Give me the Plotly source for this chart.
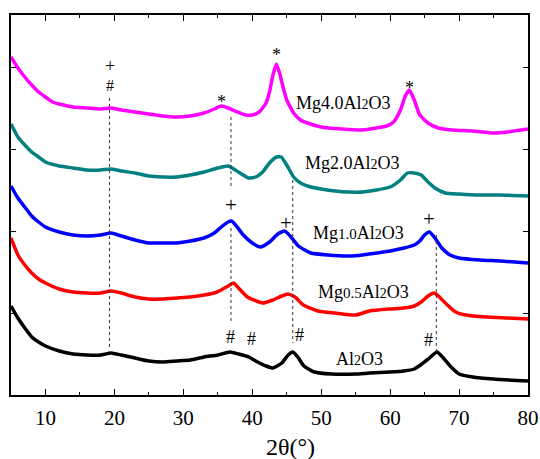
import plotly.graph_objects as go

# ---- data (2theta in degrees, intensity in arbitrary units, stacked) ----
x_mg40 = [5, 6, 7, 8, 9, 10, 11, 12, 14, 16, 18, 19.5, 21, 23, 25, 27, 29, 31, 33, 34.5, 35.5, 36.5, 37.5, 39, 40, 41, 41.5, 42, 42.5, 43, 43.5, 44, 44.5, 45, 46, 47, 48, 50, 53, 56, 58, 59.5, 60.5, 61.5, 62.2, 62.8, 63.5, 64.3, 65.5, 67, 69, 72, 75, 77, 79, 80]
y_mg40 = [338, 327, 318, 310, 303, 298, 293, 291, 288, 287, 286, 287, 285, 283, 281, 279, 278, 279, 282, 286, 289, 287, 284, 280, 280, 283, 287, 292, 303, 320, 331, 321, 307, 295, 282, 275, 272, 268, 266, 265, 267, 269, 273, 285, 299, 305, 295, 280, 272, 267, 265, 264, 262, 263, 265, 266]

x_mg20 = [5, 6, 7, 8, 9, 10, 12, 14, 16, 18, 19.5, 21, 23, 25, 27, 29, 31, 33, 35, 36.5, 38, 39.5, 40.5, 41.5, 42.5, 43.5, 44.2, 45, 46, 47, 48.5, 50, 52, 54, 56, 58, 60, 61.5, 62.5, 63.5, 64.5, 65.5, 66.5, 68, 70, 73, 76, 80]
y_mg20 = [271, 258, 250, 243, 238, 233, 229, 227, 225, 225, 226, 224, 222, 219, 218, 218, 220, 223, 227, 229, 223, 217, 218, 223, 232, 238, 238, 230, 218, 212, 208, 206, 204, 203, 203, 205, 208, 215, 222, 222, 220, 213, 207, 202, 201, 200, 200, 199]

x_mg10 = [5, 6, 7, 8, 9, 10, 12, 14, 16, 18, 19.5, 21, 23, 25, 27, 29, 31, 33, 34.5, 35.5, 36.5, 37, 37.7, 38.7, 40, 41.2, 42.5, 43.7, 44.7, 45.5, 46.7, 48.5, 51, 54, 56, 58, 60, 62, 63.5, 64.3, 65, 65.7, 66.5, 67.5, 68.7, 70, 73, 76, 80]
y_mg10 = [209, 197, 188, 179, 173, 168, 163, 160, 159, 160, 162, 159, 155, 152, 152, 152, 154, 157, 162, 168, 173, 174, 169, 160, 152, 148, 153, 161, 164, 159, 149, 142, 140, 139, 140, 142, 144, 147, 150, 154, 160, 163, 157, 147, 140, 137, 135, 134, 132]

x_mg05 = [5, 6, 7, 8, 9, 10, 12, 14, 16, 18, 19.5, 21, 23, 25, 27, 29, 31, 33, 34.5, 35.5, 36.5, 37.3, 38, 39.3, 41.5, 43, 44.3, 45.2, 46.2, 47.4, 49.5, 52, 55, 57, 60, 62, 63.5, 64.5, 65.5, 66.4, 67.3, 68.3, 69.5, 71, 74, 77, 80]
y_mg05 = [157, 140, 130, 122, 116, 112, 106, 103, 102, 102, 104, 102, 98, 96, 96, 97, 98, 100, 102, 105, 109, 112, 107, 98, 92, 95, 99, 101, 98, 90, 84, 82, 80, 84, 86, 87, 89, 93, 99, 102, 97, 90, 83, 80, 78, 77, 76]

x_al2o3 = [5, 6, 7, 8, 9, 10, 12, 14, 16, 18, 19.5, 21, 23, 25, 27, 29, 31, 33, 35, 36.8, 38, 39.5, 40.5, 42, 43, 44.3, 45.2, 45.9, 46.6, 47.5, 49, 51.5, 55, 57, 60, 62, 63.5, 64.6, 65.7, 66.8, 67.6, 68.7, 70, 72, 75, 80]
y_al2o3 = [89, 77, 67, 58, 53, 49, 44, 41, 40, 40, 42, 40, 37, 34, 33, 34, 35, 38, 40, 43, 41, 38, 34, 29, 27, 32, 40, 43, 38, 29, 23, 21, 21, 22, 23, 24, 26, 31, 37, 43, 38, 29, 21, 18, 16, 14]

series_names = ["Mg4.0Al2O3", "Mg2.0Al2O3", "Mg1.0Al2O3", "Mg0.5Al2O3", "Al2O3"]
series_colors = ["#FF00FF", "#008080", "#0000FF", "#FF0000", "#000000"]
series_x = [x_mg40, x_mg20, x_mg10, x_mg05, x_al2o3]
series_y = [y_mg40, y_mg20, y_mg10, y_mg05, y_al2o3]

# curve labels (position in data units)
label_text = ["Mg4.0Al<span style='font-size:14px'>2</span>O3",
              "Mg2.0Al<span style='font-size:14px'>2</span>O3",
              "Mg<span style='font-size:15px'>1.0</span>Al<span style='font-size:14px'>2</span>O3",
              "Mg<span style='font-size:15px'>0.5</span>Al<span style='font-size:14px'>2</span>O3",
              "Al<span style='font-size:14px'>2</span>O3"]
label_x = [53.2, 54.6, 55.4, 56.2, 55.5]
label_y = [292, 232, 162, 103, 36]

# phase markers
mark_text = ["+", "#", "*", "*", "*", "+", "+", "+", "#", "#", "#", "#"]
mark_x = [19.42, 19.42, 35.6, 43.45, 62.8, 36.96, 44.93, 65.65, 36.8, 39.86, 46.8, 65.5]
mark_y = [329, 310, 299, 346, 313, 190, 172, 176, 58, 56, 60, 55]
mark_size = [18, 16, 18, 18, 18, 21, 21, 21, 18, 18, 18, 18]

# dotted guide lines (x, y_start, y_end)
guide_x = [19.28, 36.91, 36.91, 45.87, 66.7]
guide_y0 = [297, 278, 167, 215, 160]
guide_y1 = [45, 208, 72, 52, 43]

x_ticks = [10, 20, 30, 40, 50, 60, 70, 80]
x_title = "2θ(°)"

SERIF = "Liberation Serif, Times New Roman, serif"

fig = go.Figure()
for xs, ys, nm, col in zip(series_x, series_y, series_names, series_colors):
    fig.add_trace(go.Scatter(x=xs, y=ys, mode="lines", name=nm,
                             line=dict(color=col, width=3.5, shape="spline", smoothing=0.5),
                             showlegend=False, hoverinfo="skip"))

for gx, g0, g1 in zip(guide_x, guide_y0, guide_y1):
    fig.add_shape(type="line", x0=gx, x1=gx, y0=g0, y1=g1, xref="x", yref="y",
                  line=dict(color="#333333", width=1, dash="dot"))

for t, lx, ly in zip(label_text, label_x, label_y):
    fig.add_annotation(x=lx, y=ly, text=t, showarrow=False,
                       font=dict(family=SERIF, size=18, color="black"))

for t, mx, my, ms in zip(mark_text, mark_x, mark_y, mark_size):
    yshift = -6 if t == "*" else 0
    fig.add_annotation(x=mx, y=my, text=t, showarrow=False, yshift=yshift,
                       font=dict(family=SERIF, size=ms, color="black"))

# x-axis title (placed slightly right of centre as in the reference)
fig.add_annotation(x=45.6, xref="x", y=-0.137, yref="paper", yanchor="middle",
                   text=x_title, showarrow=False,
                   font=dict(family=SERIF, size=24, color="black"))

axis_common = dict(showline=True, linecolor="black", linewidth=1.5, mirror="ticks",
                   ticks="inside", tickcolor="black", tickwidth=1.2, showgrid=False,
                   zeroline=False, automargin=False)

fig.update_xaxes(range=[5, 80], tickvals=x_ticks, ticklen=6, ticklabelstandoff=3,
                 minor=dict(dtick=5, tick0=5, ticks="inside", ticklen=3, tickcolor="black", tickwidth=1.2),
                 tickfont=dict(family=SERIF, size=21, color="black"),
                 **axis_common)
fig.update_yaxes(range=[0, 380], tick0=0, dtick=82, ticklen=5, showticklabels=False,
                 **axis_common)

fig.update_layout(width=540, height=459, margin=dict(l=10.5, r=12, t=15, b=64),
                  font=dict(family=SERIF, color="black"),
                  plot_bgcolor="white", paper_bgcolor="white")

# remove the page's default 8px body margin so the figure fills the window exactly
fig.write_html("out.html", config={"displayModeBar": False},
               post_script="document.body.style.margin='0';")
